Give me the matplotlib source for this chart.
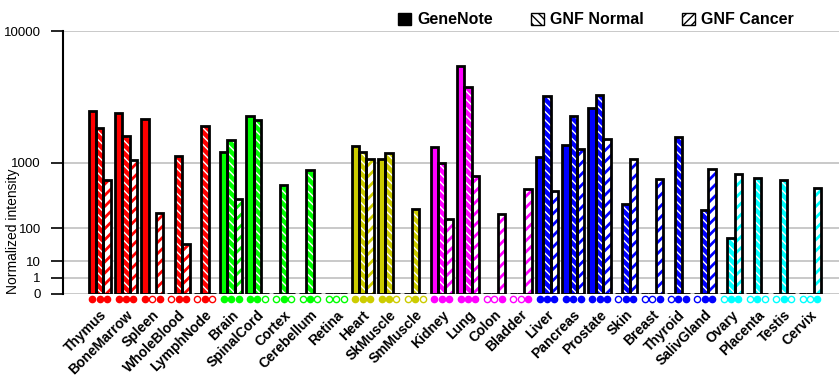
import numpy as np
import matplotlib
matplotlib.use('Agg')
import matplotlib.pyplot as plt
from matplotlib.patches import Patch
import matplotlib.transforms as mtransforms

plt.rcParams['font.family'] = ['Liberation Sans', 'DejaVu Sans']

tissues = ['Thymus', 'BoneMarrow', 'Spleen', 'WholeBlood', 'LymphNode',
           'Brain', 'SpinalCord', 'Cortex', 'Cerebellum', 'Retina',
           'Heart', 'SkMuscle', 'SmMuscle',
           'Kidney', 'Lung', 'Colon', 'Bladder',
           'Liver', 'Pancreas', 'Prostate', 'Skin', 'Breast', 'Thyroid', 'SalivGland',
           'Ovary', 'Placenta', 'Testis', 'Cervix']
colors = ['#ff0000'] * 5 + ['#00ff00'] * 5 + ['#cccc00'] * 3 + ['#ff00ff'] * 4 + \
         ['#0000ff'] * 7 + ['#00ffff'] * 4

genenote = [2985, 2875, 2568, 0, 0,
            1289, 2733, 0, 0, 0,
            1470, 1080, 0,
            1436, 6236, 0, 0,
            1135, 1504, 3150, 0, 0, 0, 0,
            0, 0, 0, 0]
gnf_normal = [2154, 1826, 0, 1163, 2240,
              1688, 2520, 529, 820, 0,
              1280, 1249, 239,
              985, 4497, 0, 0,
              3897, 2733, 3965, 279, 0, 1789, 230,
              57, 651, 620, 0]
gnf_cancer = [620, 1054, 196, 41, 0,
              337, 0, 0, 0, 0,
              1080, 0, 0,
              158, 689, 190, 471,
              438, 1382, 1714, 1080, 638, 0, 835,
              729, 0, 0, 486]

# presence dots below each bar (1 = filled, 0 = open)
dots_gn = [1, 1, 1, 0, 0, 1, 1, 0, 0, 0, 1, 1, 0, 1, 1, 0, 0, 1, 1, 1, 0, 0, 0, 0, 0, 0, 0, 0]
dots_normal = [1, 1, 0, 1, 1, 1, 1, 1, 1, 0, 1, 1, 1, 1, 1, 0, 0, 1, 1, 1, 1, 0, 1, 1, 1, 1, 1, 0]
dots_cancer = [1, 1, 1, 1, 0, 1, 0, 0, 0, 0, 1, 0, 0, 1, 1, 1, 1, 1, 1, 1, 1, 1, 1, 1, 1, 0, 0, 1]

yticks = [0, 1, 10, 100, 1000, 10000]

p = np.log10(2)  # each decade gets half the height of the next one


def fwd(v):
    return np.power(np.clip(v, 0, None), p)


def inv(v):
    return np.power(np.clip(v, 0, None), 1 / p)


fig = plt.figure(figsize=(8.4, 3.85), dpi=100)
ax = fig.add_axes([63 / 840, 91 / 385, 776 / 840, 263 / 385])
ax.set_yscale('function', functions=(fwd, inv))

x = np.arange(len(tissues))
w = 0.28
series = [genenote, gnf_normal, gnf_cancer]
offsets = [-w, 0, w]

for k, (vals, off) in enumerate(zip(series, offsets)):
    for i, v in enumerate(vals):
        c = colors[i]
        if k == 0:
            ax.bar(x[i] + off, v, w, color=c, linewidth=0, zorder=2)
        elif k == 1:
            plt.rcParams['hatch.linewidth'] = 1.0
            ax.bar(x[i] + off, v, w, facecolor=c, edgecolor='white', hatch='\\\\\\\\', linewidth=0, zorder=2)
        else:
            plt.rcParams['hatch.linewidth'] = 2.0
            ax.bar(x[i] + off, v, w, facecolor='white', edgecolor=c, hatch='///', linewidth=0, zorder=2)
        ax.bar(x[i] + off, v, w, fill=False, edgecolor='black', linewidth=2, zorder=3)

# dots row just below the baseline
trans = mtransforms.blended_transform_factory(ax.transData, ax.transAxes)
for dots, off in zip([dots_gn, dots_normal, dots_cancer], offsets):
    for i, d in enumerate(dots):
        ax.plot(x[i] + off, -0.02, 'o', ms=4.5, mew=1, transform=trans, clip_on=False,
                markerfacecolor=colors[i] if d else 'white', markeredgecolor=colors[i])

ax.set_xlim(-1.39, 28.1)
ax.set_ylim(0, 10000)
ax.set_yticks(yticks)
ax.set_yticklabels([str(t) for t in yticks], fontsize=9.5)
ax.yaxis.grid(True, color='#c0c0c0', linewidth=1.2, zorder=0)
ax.set_axisbelow(True)
ax.tick_params(axis='y', length=9, width=1.2, pad=7)
ax.set_xticks(x)
ax.set_xticklabels(tissues, rotation=45, ha='right', va='top', rotation_mode='anchor',
                   fontsize=10, fontweight='bold')
ax.tick_params(axis='x', length=0, pad=10)
for s in ['top', 'right', 'bottom']:
    ax.spines[s].set_visible(False)
ax.spines['left'].set_linewidth(1.5)

ax.set_ylabel('Normalized intensity', fontsize=10)
ax.yaxis.set_label_coords(-0.055, 0.24)

handles = [Patch(facecolor='black', edgecolor='black', label='GeneNote'),
           Patch(facecolor='white', edgecolor='black', hatch='\\\\\\\\', label='GNF Normal'),
           Patch(facecolor='white', edgecolor='black', hatch='////', label='GNF Cancer')]
plt.rcParams['hatch.linewidth'] = 1.0
fig.legend(handles=handles, loc='center', bbox_to_anchor=(596 / 840, 1 - 20 / 385), ncol=3,
           frameon=False, prop={'size': 11.5, 'weight': 'bold'}, handlelength=0.8, handleheight=0.8,
           columnspacing=2.4, handletextpad=0.4)

fig.savefig('out.png', dpi=100)
